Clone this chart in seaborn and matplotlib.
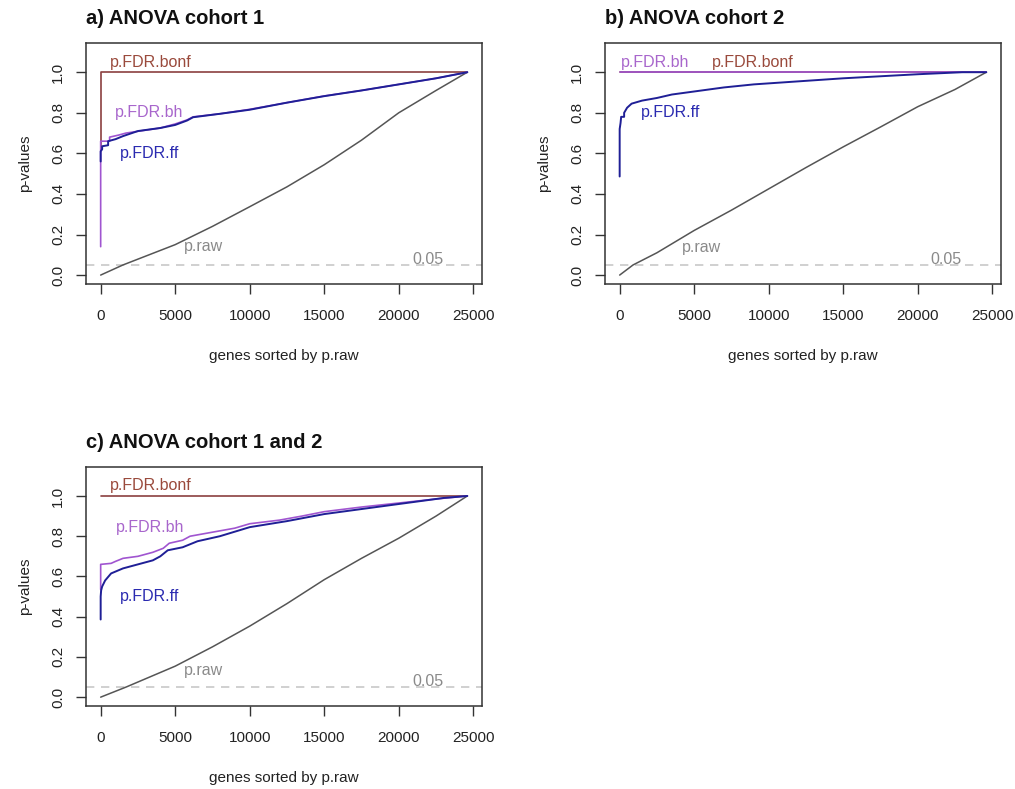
import numpy as np
import pandas as pd
import matplotlib
matplotlib.use("Agg")
import matplotlib.pyplot as plt
import seaborn as sns

# ---------------- data ----------------
titles = ["a) ANOVA cohort 1", "b) ANOVA cohort 2", "c) ANOVA cohort 1 and 2"]

# panel a
a_raw_x = [0, 1500, 5000, 7500, 10000, 12500, 15000, 17500, 20000, 22500, 24600]
a_raw_y = [0.0, 0.05, 0.15, 0.24, 0.337, 0.435, 0.544, 0.665, 0.80, 0.91, 1.0]
a_bonf_x = [0, 0, 24600]
a_bonf_y = [0.62, 1.0, 1.0]
a_bh_x = [0, 0, 600, 600, 1200, 1700, 2800, 4000, 5000, 5800, 6200, 8000, 10000, 12500, 15000, 17500, 20000, 22500, 24600]
a_bh_y = [0.14, 0.66, 0.66, 0.68, 0.69, 0.70, 0.712, 0.725, 0.745, 0.765, 0.78, 0.795, 0.817, 0.85, 0.883, 0.91, 0.94, 0.97, 1.0]
a_ff_x = [0, 0, 100, 100, 500, 500, 1000, 1500, 2500, 4000, 5000, 5800, 6200, 8000, 10000, 12500, 15000, 17500, 20000, 22500, 24600]
a_ff_y = [0.56, 0.61, 0.62, 0.635, 0.64, 0.66, 0.67, 0.685, 0.71, 0.725, 0.74, 0.762, 0.778, 0.795, 0.815, 0.85, 0.882, 0.91, 0.94, 0.97, 1.0]

# panel b
b_raw_x = [0, 900, 2500, 5000, 7500, 10000, 12500, 15000, 17500, 20000, 22500, 24600]
b_raw_y = [0.0, 0.05, 0.11, 0.22, 0.32, 0.425, 0.53, 0.632, 0.73, 0.83, 0.915, 1.0]
b_bonf_x = [0, 24600]
b_bonf_y = [1.0, 1.0]
b_bh_x = [0, 24600]
b_bh_y = [1.0, 1.0]
b_ff_x = [0, 0, 60, 100, 300, 300, 500, 800, 1500, 2500, 3500, 5000, 7000, 9000, 12000, 15000, 17500, 20000, 23000, 24600]
b_ff_y = [0.486, 0.72, 0.75, 0.78, 0.78, 0.80, 0.825, 0.845, 0.86, 0.873, 0.89, 0.905, 0.925, 0.94, 0.955, 0.97, 0.98, 0.99, 1.0, 1.0]

# panel c
c_raw_x = [0, 1700, 5000, 7500, 10000, 12500, 15000, 17500, 20000, 22500, 24600]
c_raw_y = [0.0, 0.05, 0.154, 0.25, 0.353, 0.465, 0.584, 0.69, 0.79, 0.90, 1.0]
c_bonf_x = [0, 24600]
c_bonf_y = [1.0, 1.0]
c_bh_x = [0, 0, 700, 1000, 1500, 2500, 3500, 4200, 4600, 5500, 6000, 7500, 9000, 10000, 12000, 13500, 15000, 17500, 20000, 22500, 24600]
c_bh_y = [0.535, 0.66, 0.665, 0.675, 0.69, 0.70, 0.72, 0.74, 0.765, 0.78, 0.80, 0.82, 0.84, 0.862, 0.88, 0.90, 0.922, 0.945, 0.965, 0.985, 1.0]
c_ff_x = [0, 0, 30, 100, 300, 700, 1500, 2500, 3500, 4000, 4500, 5500, 6500, 8000, 10000, 12500, 15000, 18000, 20000, 23000, 24600]
c_ff_y = [0.386, 0.50, 0.53, 0.55, 0.58, 0.615, 0.64, 0.66, 0.68, 0.70, 0.73, 0.745, 0.775, 0.80, 0.845, 0.875, 0.91, 0.94, 0.96, 0.99, 1.0]

threshold = 0.05

# label positions (data coords) per panel
label_pos = [
    {"bonf": (3330, 1.048), "bh": (3220, 0.80), "ff": (3300, 0.60), "raw": (6900, 0.14), "thr": (21940, 0.078)},
    {"bonf": (8950, 1.048), "bh": (2410, 1.048), "ff": (3420, 0.80), "raw": (5490, 0.136), "thr": (21900, 0.078)},
    {"bonf": (3330, 1.051), "bh": (3350, 0.844), "ff": (3300, 0.498), "raw": (6900, 0.134), "thr": (21940, 0.079)},
]

panels = [
    (a_raw_x, a_raw_y, a_bonf_x, a_bonf_y, a_bh_x, a_bh_y, a_ff_x, a_ff_y),
    (b_raw_x, b_raw_y, b_bonf_x, b_bonf_y, b_bh_x, b_bh_y, b_ff_x, b_ff_y),
    (c_raw_x, c_raw_y, c_bonf_x, c_bonf_y, c_bh_x, c_bh_y, c_ff_x, c_ff_y),
]

# ---------------- style ----------------
sns.set_style("white")
plt.rcParams["font.family"] = ["Liberation Sans", "DejaVu Sans"]

W, H = 1015, 789
fig = plt.figure(figsize=(W / 100, H / 100), dpi=100)

boxes = [(86, 43, 482, 284), (605, 43, 1001, 284), (86, 467, 482, 706)]

col_raw = "#555555"
col_raw_txt = "#8a8a8a"
col_bonf = "#8b4040"
col_bonf_txt = "#9a4a3c"
col_bh = "#a055d0"
col_bh_txt = "#a866cc"
col_ff = "#1f1f96"
col_ff_txt = "#2a2ab0"
col_thr = "#c8c8c8"

for i, (box, data) in enumerate(zip(boxes, panels)):
    l, t, r, b = box
    ax = fig.add_axes([l / W, 1 - b / H, (r - l) / W, (b - t) / H])
    raw_x, raw_y, bonf_x, bonf_y, bh_x, bh_y, ff_x, ff_y = data

    ax.axhline(threshold, color=col_thr, lw=1.2, ls=(0, (5, 4)), zorder=1)
    sns.lineplot(x=raw_x, y=raw_y, ax=ax, color=col_raw, lw=1.1, estimator=None, sort=False, zorder=2)
    sns.lineplot(x=bonf_x, y=bonf_y, ax=ax, color=col_bonf, lw=1.2, estimator=None, sort=False, zorder=3)
    sns.lineplot(x=bh_x, y=bh_y, ax=ax, color=col_bh, lw=1.2, estimator=None, sort=False, zorder=4)
    sns.lineplot(x=ff_x, y=ff_y, ax=ax, color=col_ff, lw=1.4, estimator=None, sort=False, zorder=5)

    lp = label_pos[i]
    fs = 11.5
    ax.text(*lp["bonf"], "p.FDR.bonf", color=col_bonf_txt, fontsize=fs, ha="center", va="center")
    ax.text(*lp["bh"], "p.FDR.bh", color=col_bh_txt, fontsize=fs, ha="center", va="center")
    ax.text(*lp["ff"], "p.FDR.ff", color=col_ff_txt, fontsize=fs, ha="center", va="center")
    ax.text(*lp["raw"], "p.raw", color=col_raw_txt, fontsize=fs, ha="center", va="center")
    ax.text(*lp["thr"], "0.05", color=col_raw_txt, fontsize=fs, ha="center", va="center")

    ax.set_xlim(-984, 25584)
    ax.set_ylim(-0.044, 1.144)
    ax.set_xticks([0, 5000, 10000, 15000, 20000, 25000])
    ax.set_yticks([0.0, 0.2, 0.4, 0.6, 0.8, 1.0])
    ax.set_yticklabels(["0.0", "0.2", "0.4", "0.6", "0.8", "1.0"], rotation=90, va="center")
    ax.tick_params(axis="both", direction="out", length=7, width=1, color="#333333",
                   labelsize=11, labelcolor="#222222", bottom=True, left=True)
    ax.tick_params(axis="x", pad=11)
    ax.tick_params(axis="y", pad=8)
    for s in ax.spines.values():
        s.set_visible(True)
        s.set_color("#333333")
        s.set_linewidth(1.1)
    ax.set_xlabel("genes sorted by p.raw", fontsize=11, color="#222222", labelpad=19)
    ax.set_ylabel("p-values", fontsize=11, color="#222222", labelpad=14)
    ax.set_title(titles[i], loc="left", fontsize=14.5, fontweight="bold", pad=14, color="#111111")

fig.savefig("out.png", dpi=100)
